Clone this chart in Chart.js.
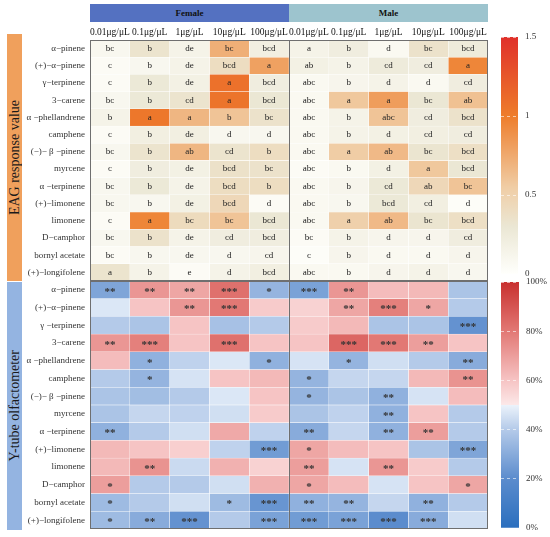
<!DOCTYPE html>
<html>
<head>
<meta charset="utf-8">
<script src="https://cdn.jsdelivr.net/npm/chart.js@4.4.0/dist/chart.umd.min.js"></script>
<style>
  body { margin: 0; background: #fff; width: 550px; height: 537px; position: relative; overflow: hidden; font-family: 'Liberation Serif', serif; }
  .head { position: absolute; display: flex; align-items: center; justify-content: center; font-weight: bold; font-size: 9px; color: #111; }
  .side { position: absolute; display: flex; align-items: center; justify-content: center; }
  .side span { writing-mode: vertical-rl; transform: rotate(180deg); font-size: 14px; color: #1a1a1a; white-space: nowrap; }
  canvas { position: absolute; }
</style>
</head>
<body>
<div class="head" style="left:90px;top:4px;width:199px;height:18px;background:#5471c1">Female</div>
<div class="head" style="left:289px;top:4px;width:199px;height:18px;background:#9dc4ce">Male</div>
<div class="side" style="left:7px;top:34px;width:15px;height:247px;background:#f0a05c"><span>EAG response value</span></div>
<div class="side" style="left:7px;top:282px;width:15px;height:248px;background:#94b4e1"><span>Y-tube olfactometer</span></div>

<canvas id="eag" width="470" height="259" style="left:20px;top:22px"></canvas>
<canvas id="ytube" width="470" height="248" style="left:20px;top:281px"></canvas>
<canvas id="barEag" width="48" height="252" style="left:501px;top:30px"></canvas>
<canvas id="barY" width="49" height="261" style="left:501px;top:276px"></canvas>

<script>
// rows of both heatmaps
const compounds = ['α−pinene', '(+)−α−pinene', 'γ−terpinene', '3−carene', 'α −phellandrene', 'camphene',
  '(−)− β −pinene', 'myrcene', 'α −terpinene', '(+)−limonene', 'limonene', 'D−camphor', 'bornyl acetate', '(+)−longifolene'];
const compoundsY = ['α−pinene', '(+)−α−pinene', 'γ −terpinene', '3−carene', 'α −phellandrene', 'camphene',
  '(−)− β −pinene', 'myrcene', 'α −terpinene', '(+)−limonene', 'limonene', 'D−camphor', 'bornyl acetate', '(+)−longifolene'];
const concentrations = ['0.01μg/μL', '0.1μg/μL', '1μg/μL', '10μg/μL', '100μg/μL'];

// EAG response values (mV), one row per compound, columns = concentrations
const eagFemale = [
  [0.10, 0.33, 0.15, 0.72, 0.20],
  [0.05, 0.10, 0.15, 0.40, 0.80],
  [0.05, 0.28, 0.18, 1.08, 0.22],
  [0.10, 0.28, 0.33, 1.06, 0.30],
  [0.15, 1.04, 0.68, 0.60, 0.35],
  [0.05, 0.20, 0.20, 0.10, 0.10],
  [0.10, 0.33, 0.68, 0.33, 0.40],
  [0.05, 0.22, 0.18, 0.36, 0.35],
  [0.10, 0.28, 0.15, 0.40, 0.40],
  [0.10, 0.10, 0.18, 0.45, 0.05],
  [0.05, 0.95, 0.42, 0.60, 0.30],
  [0.10, 0.35, 0.15, 0.22, 0.22],
  [0.05, 0.10, 0.10, 0.10, 0.12],
  [0.33, 0.15, 0.05, 0.15, 0.20]
];
const eagMale = [
  [0.15, 0.22, 0.08, 0.35, 0.25],
  [0.18, 0.15, 0.25, 0.22, 0.95],
  [0.08, 0.12, 0.15, 0.08, 0.22],
  [0.08, 0.58, 0.82, 0.30, 0.62],
  [0.08, 0.15, 0.60, 0.22, 0.35],
  [0.08, 0.15, 0.18, 0.20, 0.22],
  [0.08, 0.55, 0.66, 0.32, 0.38],
  [0.05, 0.08, 0.18, 0.58, 0.30],
  [0.08, 0.12, 0.28, 0.45, 0.60],
  [0.08, 0.10, 0.28, 0.20, 0.03],
  [0.08, 0.52, 0.66, 0.32, 0.38],
  [0.05, 0.15, 0.12, 0.12, 0.22],
  [0.03, 0.12, 0.08, 0.08, 0.12],
  [0.08, 0.08, 0.12, 0.15, 0.10]
];
const lettersFemale = [
  ['bc', 'b', 'de', 'bc', 'bcd'],
  ['c', 'b', 'de', 'bcd', 'a'],
  ['c', 'b', 'de', 'a', 'bcd'],
  ['bc', 'b', 'cd', 'a', 'bcd'],
  ['b', 'a', 'a', 'b', 'bc'],
  ['c', 'b', 'de', 'd', 'd'],
  ['bc', 'b', 'ab', 'cd', 'b'],
  ['c', 'b', 'de', 'bcd', 'bc'],
  ['bc', 'b', 'de', 'bcd', 'b'],
  ['bc', 'b', 'de', 'bcd', 'd'],
  ['c', 'a', 'bc', 'bc', 'bcd'],
  ['bc', 'b', 'de', 'cd', 'bcd'],
  ['bc', 'b', 'de', 'd', 'cd'],
  ['a', 'b', 'e', 'd', 'bcd']
];
const lettersMale = [
  ['a', 'b', 'd', 'bc', 'bcd'],
  ['ab', 'b', 'cd', 'cd', 'a'],
  ['abc', 'b', 'd', 'd', 'cd'],
  ['abc', 'a', 'a', 'bc', 'ab'],
  ['abc', 'b', 'abc', 'cd', 'bcd'],
  ['abc', 'b', 'd', 'cd', 'cd'],
  ['abc', 'a', 'ab', 'bc', 'bcd'],
  ['abc', 'b', 'd', 'a', 'bcd'],
  ['abc', 'b', 'cd', 'ab', 'bc'],
  ['abc', 'b', 'bcd', 'cd', 'd'],
  ['abc', 'a', 'ab', 'bc', 'bcd'],
  ['bc', 'b', 'd', 'd', 'cd'],
  ['c', 'b', 'd', 'd', 'd'],
  ['abc', 'b', 'd', 'd', 'd']
];

// Y-tube choice rate (%)
const ytubeFemale = [
  [28, 72, 68, 82, 33],
  [47, 60, 72, 80, 58],
  [40, 38, 60, 37, 40],
  [72, 78, 60, 82, 60],
  [62, 32, 42, 47, 32],
  [40, 33, 46, 60, 63],
  [38, 36, 40, 47, 60],
  [38, 43, 42, 45, 58],
  [32, 40, 45, 67, 42],
  [63, 60, 57, 42, 25],
  [63, 73, 44, 65, 56],
  [70, 40, 40, 45, 65],
  [35, 40, 45, 35, 23],
  [35, 30, 22, 40, 27]
];
const ytubeMale = [
  [27, 72, 62, 63, 38],
  [56, 68, 78, 68, 40],
  [58, 63, 38, 38, 22],
  [60, 85, 80, 70, 60],
  [46, 33, 45, 40, 30],
  [33, 43, 43, 63, 73],
  [33, 38, 32, 46, 62],
  [38, 42, 32, 60, 40],
  [30, 43, 32, 70, 40],
  [68, 62, 60, 38, 28],
  [70, 46, 72, 58, 40],
  [68, 62, 46, 60, 68],
  [32, 33, 43, 32, 40],
  [25, 27, 20, 30, 45]
];
const starsFemale = [
  ['**', '**', '**', '***', '*'],
  ['', '', '**', '***', ''],
  ['', '', '', '', ''],
  ['**', '***', '', '***', ''],
  ['', '*', '', '', '*'],
  ['', '*', '', '', ''],
  ['', '', '', '', ''],
  ['', '', '', '', ''],
  ['**', '', '', '', ''],
  ['', '', '', '', '***'],
  ['', '**', '', '', ''],
  ['*', '', '', '', ''],
  ['*', '', '', '*', '***'],
  ['*', '**', '***', '', '***']
];
const starsMale = [
  ['***', '**', '', '', ''],
  ['', '**', '***', '*', ''],
  ['', '', '', '', '***'],
  ['', '***', '***', '**', ''],
  ['', '*', '', '', '**'],
  ['*', '', '', '', '**'],
  ['*', '', '**', '', ''],
  ['', '', '**', '', ''],
  ['**', '', '**', '**', ''],
  ['*', '', '', '', '***'],
  ['**', '', '**', '', ''],
  ['*', '', '', '', '*'],
  ['**', '**', '', '**', ''],
  ['***', '***', '***', '***', '']
];

// colour scales
const eagStops = [
  [0, [255, 255, 252]], [0.3, [235, 231, 212]], [0.55, [240, 205, 165]],
  [1.0, [238, 125, 43]], [1.5, [224, 48, 42]]
];
const ytubeStops = [
  [0, [43, 111, 190]], [20, [91, 140, 205]], [40, [180, 202, 233]], [50, [236, 243, 251]],
  [50.01, [252, 232, 232]], [60, [246, 196, 196]], [80, [226, 120, 116]], [100, [200, 48, 47]]
];

function colourAt(stops, v) {
  if (v <= stops[0][0]) return 'rgb(' + stops[0][1] + ')';
  for (let i = 1; i < stops.length; i++) {
    if (v <= stops[i][0]) {
      const [v0, c0] = stops[i - 1], [v1, c1] = stops[i];
      const t = (v - v0) / (v1 - v0);
      return 'rgb(' + c0.map((c, k) => Math.round(c + (c1[k] - c) * t)) + ')';
    }
  }
  return 'rgb(' + stops[stops.length - 1][1] + ')';
}

const serif = 'Liberation Serif';

const cellText = {
  id: 'cellText',
  afterDatasetsDraw(chart, args, opts) {
    const ctx = chart.ctx;
    ctx.save();
    ctx.font = opts.font;
    ctx.fillStyle = opts.color;
    ctx.textAlign = 'center';
    ctx.textBaseline = 'middle';
    chart.data.datasets.forEach((ds, k) => {
      chart.getDatasetMeta(k).data.forEach((bar, i) => {
        const p = bar.getCenterPoint();
        ctx.fillText(ds.cellText[i], p.x, p.y + opts.dy);
      });
    });
    ctx.restore();
  }
};

const outline = {
  id: 'outline',
  afterDatasetsDraw(chart) {
    const { ctx, chartArea: a, scales: { x } } = chart;
    ctx.save();
    ctx.strokeStyle = '#6f6f6f';
    ctx.lineWidth = 1;
    ctx.strokeRect(a.left + 0.5, a.top + 0.5, a.width - 1, a.height - 1);
    const mid = Math.round(x.getPixelForValue(5)) + 0.5;
    ctx.beginPath();
    ctx.moveTo(mid, a.top);
    ctx.lineTo(mid, a.bottom);
    ctx.stroke();
    ctx.restore();
  }
};

function heatmap(id, rows, valsF, valsM, textF, textM, stops, showTop, textOpts) {
  const datasets = [];
  [valsF, valsM].forEach((vals, s) => {
    concentrations.forEach((c, j) => {
      const col = s * 5 + j;
      datasets.push({
        data: rows.map(() => [col, col + 1]),
        backgroundColor: vals.map(r => colourAt(stops, r[j])),
        cellText: (s ? textM : textF).map(r => r[j]),
        borderColor: 'rgba(255,255,255,0.85)',
        borderWidth: 0.5,
        borderSkipped: false,
        grouped: false,
        barPercentage: 1,
        categoryPercentage: 1
      });
    });
  });
  const colLabels = concentrations.concat(concentrations);
  return new Chart(document.getElementById(id), {
    type: 'bar',
    data: { labels: rows, datasets: datasets },
    options: {
      indexAxis: 'y',
      responsive: false,
      animation: false,
      layout: { padding: { right: 2 } },
      plugins: { legend: { display: false }, tooltip: { enabled: false }, cellText: textOpts },
      scales: {
        x: {
          type: 'linear', min: 0, max: 10, position: 'top', display: showTop,
          grid: { display: false, drawTicks: false }, border: { display: false },
          afterBuildTicks: scale => { scale.ticks = colLabels.map((l, i) => ({ value: i + 0.5 })); },
          afterFit: scale => {
            scale.height = showTop ? 18 : 0;
            scale.paddingLeft = 0;
            scale.paddingRight = 0;
          },
          ticks: {
            autoSkip: false, maxRotation: 0, padding: 2, color: '#111',
            font: { family: serif, size: 9.5 },
            callback: (v, i) => colLabels[i]
          }
        },
        y: {
          type: 'category',
          grid: { display: false, drawTicks: false }, border: { display: false },
          afterFit: scale => { scale.width = 70; scale.paddingTop = 0; scale.paddingBottom = 0; },
          ticks: { padding: 5, color: '#333', font: { family: serif, size: 9 } }
        }
      }
    },
    plugins: [cellText, outline]
  });
}

heatmap('eag', compounds, eagFemale, eagMale, lettersFemale, lettersMale, eagStops, true,
  { font: '9px "Liberation Serif"', color: '#222', dy: 0 });
heatmap('ytube', compoundsY, ytubeFemale, ytubeMale, starsFemale, starsMale, ytubeStops, false,
  { font: 'bold 11px "Liberation Serif"', color: '#333', dy: 2 });

function colourBar(id, stops, max, step, fmt, pad) {
  return new Chart(document.getElementById(id), {
    type: 'bar',
    data: {
      labels: ['scale'],
      datasets: [{
        data: [[0, max]],
        barPercentage: 1,
        categoryPercentage: 1,
        borderWidth: 0,
        backgroundColor: ctx => {
          const chart = ctx.chart;
          if (!chart.chartArea) return 'transparent';
          const y = chart.scales.y;
          const g = chart.ctx.createLinearGradient(0, y.getPixelForValue(0), 0, y.getPixelForValue(max));
          stops.forEach(([v, c]) => g.addColorStop(v / max, 'rgb(' + c + ')'));
          return g;
        }
      }]
    },
    options: {
      responsive: false,
      animation: false,
      layout: { padding: pad },
      plugins: { legend: { display: false }, tooltip: { enabled: false } },
      scales: {
        x: { display: false, afterFit: scale => { scale.paddingLeft = 0; scale.paddingRight = 0; } },
        y: {
          position: 'right', min: 0, max: max,
          grid: { drawTicks: false, color: 'rgba(255,255,255,0.6)', z: 1 },
          border: { display: false, dash: [3, 3] },
          afterFit: scale => { scale.width = 31; scale.paddingTop = 0; scale.paddingBottom = 0; },
          ticks: { stepSize: step, padding: 7, color: '#333', font: { family: serif, size: 9 }, callback: fmt }
        }
      }
    }
  });
}

colourBar('barEag', eagStops, 1.5, 0.5, v => String(v), { top: 7, bottom: 8 });
colourBar('barY', ytubeStops, 100, 20, v => v + '%', { top: 6, bottom: 9 });
</script>
</body>
</html>
